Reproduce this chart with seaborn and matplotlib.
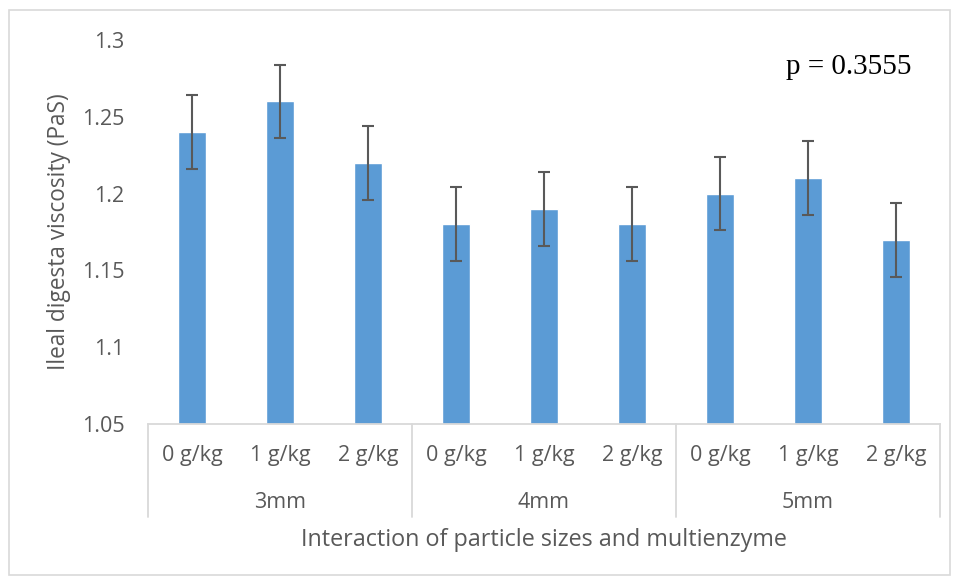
import matplotlib
matplotlib.use("Agg")
import matplotlib.pyplot as plt
import matplotlib.transforms as mtransforms
from matplotlib.patches import Rectangle
import pandas as pd
import seaborn as sns

# data
particle_sizes = ["3mm", "4mm", "5mm"]
enzyme_levels = ["0 g/kg", "1 g/kg", "2 g/kg"]
viscosity = [1.24, 1.26, 1.22, 1.18, 1.19, 1.18, 1.20, 1.21, 1.17]
std_error = [0.024, 0.024, 0.024, 0.024, 0.024, 0.024, 0.024, 0.024, 0.024]

rows = []
for i, size in enumerate(particle_sizes):
    for j, level in enumerate(enzyme_levels):
        rows.append({"group": f"{size}_{level}", "size": size, "level": level})
df = pd.DataFrame(rows)
df["viscosity"] = viscosity
df["se"] = std_error

sns.set_style("white")
plt.rcParams["font.family"] = ["Open Sans", "DejaVu Sans"]
grey = "#595959"
line_grey = "#d9d9d9"

fig = plt.figure(figsize=(9.56, 5.79), dpi=100)
ax = fig.add_axes([148 / 956, 1 - 424 / 579, 792 / 956, 384 / 579])

sns.barplot(data=df, x="group", y="viscosity", color="#5b9bd5", width=0.32,
            saturation=1, ax=ax, errorbar=None)
ax.errorbar(range(len(df)), df["viscosity"], yerr=df["se"], fmt="none",
            ecolor="#595959", elinewidth=1.5, capsize=4.3, capthick=1.5)

ax.set_ylim(1.05, 1.3)
ax.set_yticks([1.05, 1.1, 1.15, 1.2, 1.25, 1.3])
ax.set_yticklabels(["1.05", "1.1", "1.15", "1.2", "1.25", "1.3"])
ax.set_xlim(-0.5, len(df) - 0.5)
ax.set_xticks(range(len(df)))
ax.set_xticklabels(df["level"])
ax.tick_params(axis="x", length=0, pad=15, labelsize=15.5, labelcolor=grey)
ax.tick_params(axis="y", length=0, pad=17, labelsize=15.5, labelcolor=grey)
ax.set_xlabel("")
ax.set_ylabel("Ileal digesta viscosity (PaS)", fontsize=16.3, color=grey)
ax.yaxis.set_label_coords(-(148 - 71) / 792, 0.5)

for side in ["top", "right", "left"]:
    ax.spines[side].set_visible(False)
ax.spines["bottom"].set_color(line_grey)
ax.spines["bottom"].set_linewidth(1.3)

# multi-level category axis
trans = mtransforms.blended_transform_factory(ax.transData, ax.transAxes)
for xb in [-0.5, 2.5, 5.5, 8.5]:
    ax.plot([xb, xb], [0, -93 / 384], transform=trans, color=line_grey,
            lw=1.3, clip_on=False)
for i, size in enumerate(particle_sizes):
    ax.text(i * 3 + 1, -78 / 384, size, transform=trans, ha="center",
            va="center", fontsize=15.5, color=grey)

fig.text(544 / 956, 1 - 540 / 579, "Interaction of particle sizes and multienzyme",
         ha="center", va="center", fontsize=16.8, color=grey)
fig.text(849 / 956, 1 - 67 / 579, "p = 0.3555", ha="center", va="center",
         fontsize=21, color="black", family=["Liberation Serif", "DejaVu Serif"])

fig.patches.append(Rectangle((9 / 956, 1 - 575 / 579), 941 / 956, 565 / 579,
                             transform=fig.transFigure, fill=False,
                             edgecolor=line_grey, lw=1.2))

fig.savefig("out.png", dpi=100)
